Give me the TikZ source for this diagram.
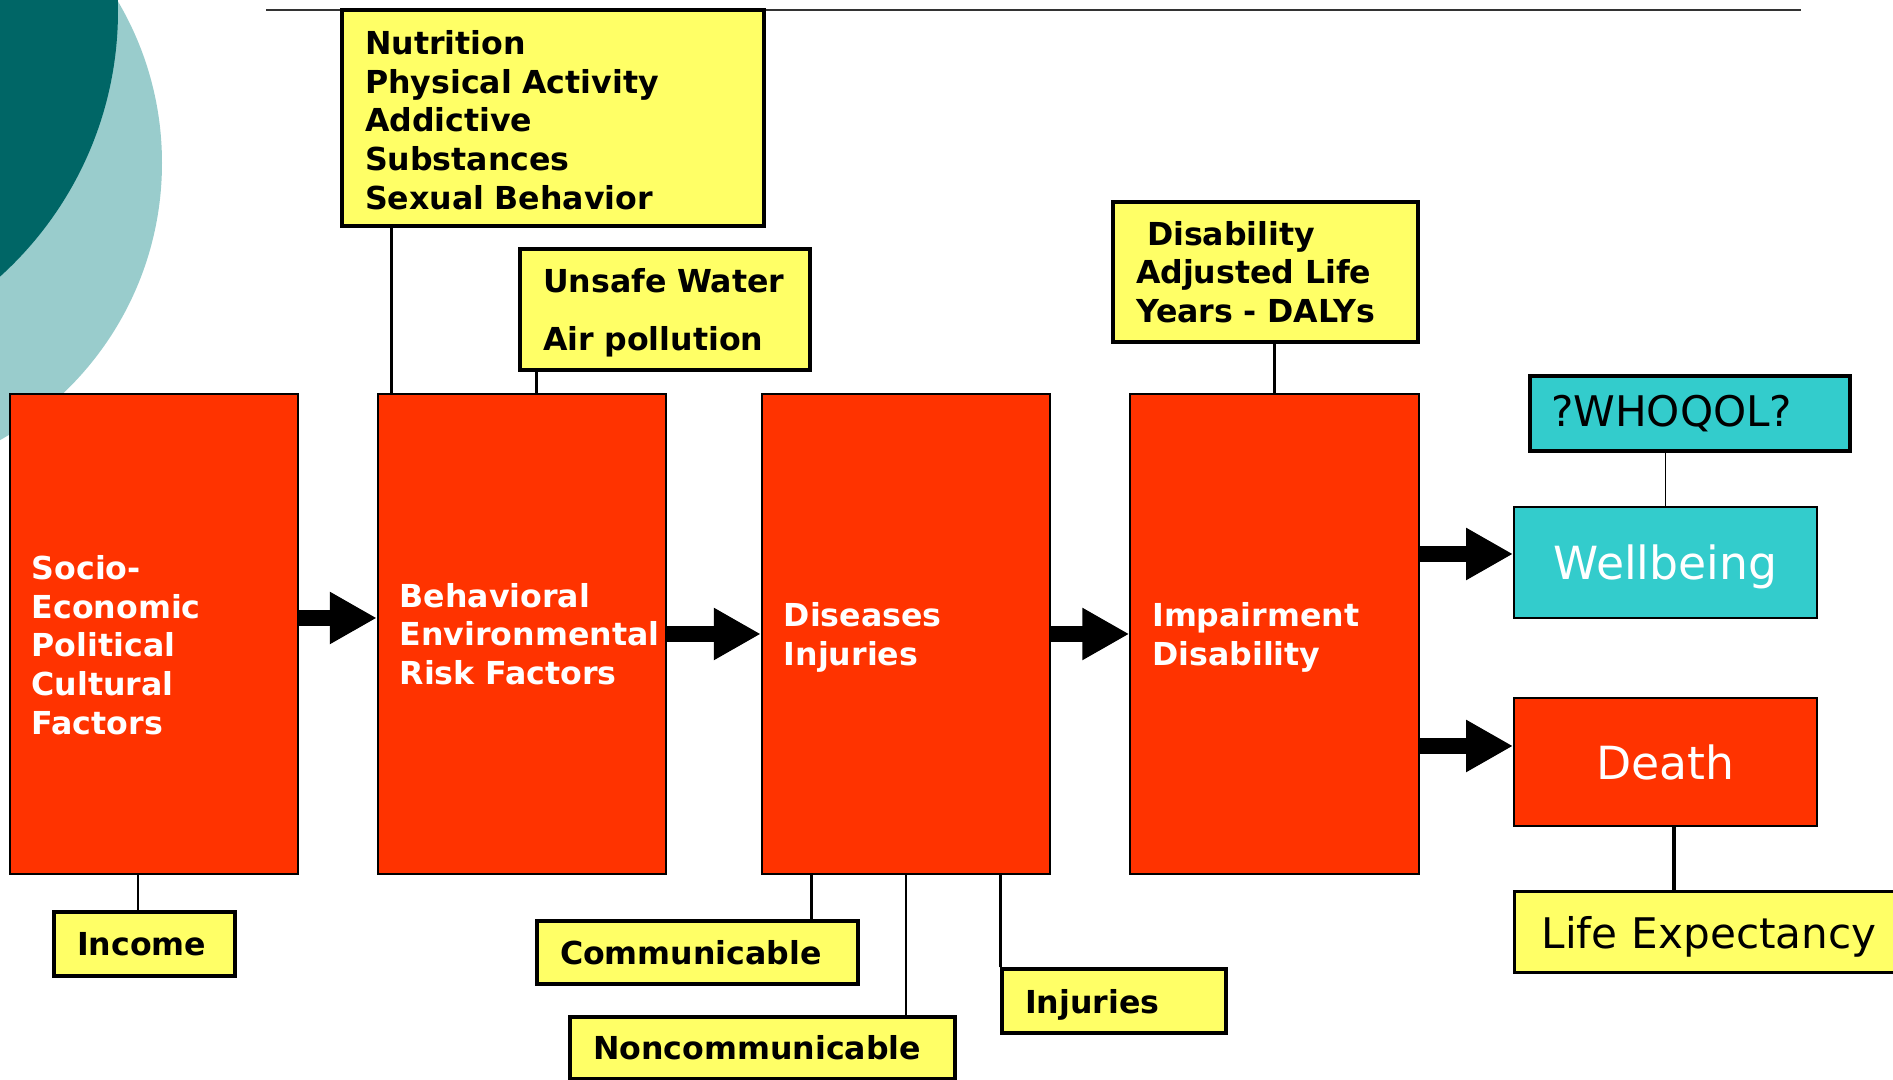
\documentclass[tikz,border=0pt]{standalone}
\usepackage{fontspec}
\setmainfont{DejaVu Sans}
\usetikzlibrary{arrows.meta, positioning}
\definecolor{riskred}{HTML}{FF3300}
\definecolor{noteyellow}{HTML}{FFFF66}
\definecolor{qolteal}{HTML}{33CCCC}
\definecolor{darkteal}{HTML}{006666}
\definecolor{paleteal}{HTML}{99CCCC}
\newcommand{\toppad}[1]{\rule{0pt}{#1}}

\begin{document}
\begin{tikzpicture}[
  redbox/.style={rectangle, draw=black, line width=1.1pt, fill=riskred, text=white, font=\bfseries\fontsize{18}{22}\selectfont, inner xsep=0pt, inner ysep=0pt, align=left, text width=5.77cm, minimum height=9.6cm, execute at begin node={\leftskip=0.44cm}},
  notebox/.style={rectangle, draw=black, line width=1.9pt, fill=noteyellow, font=\bfseries\fontsize{18}{22}\selectfont, inner xsep=0pt, inner ysep=0pt, align=left, execute at begin node={\leftskip=0.46cm}},
  outcome/.style={rectangle, draw=black, line width=1.1pt, text=white, font=\fontsize{26}{31}\selectfont, inner sep=0pt, minimum width=6.06cm},
  bigarrow/.style={line width=0.32cm, -{Triangle[length=0.94cm, width=0.98cm]}},
  link/.style={line width=1.6pt}
]
\useasboundingbox (0,0) rectangle (37.86,21.6);

% corner decoration
\fill[paleteal] (-3.12,18.34) circle (6.36);
\fill[darkteal] (-4.8,21.38) circle (7.16);
\draw[line width=1pt, black!80] (5.32,21.4) -- (36.02,21.4);

\node[redbox] (socio) at (3.08,8.92) {\toppad{0.92cm}Socio-\\Economic\\Political\\Cultural\\Factors};
\node[redbox] (behav) at (10.44,8.92) {Behavioral\\Environmental\\Risk Factors};
\node[redbox] (dis) at (18.12,8.92) {\toppad{0.63cm}Diseases\\Injuries};
\node[redbox] (impair) at (25.49,8.92) {\toppad{0.63cm}Impairment\\Disability};

\node[outcome, fill=qolteal, text depth=0pt, minimum height=2.22cm] (wellbeing) at (33.31,10.35) {Wellbeing};
\node[outcome, fill=riskred, minimum height=2.56cm] (death) at (33.31,6.36) {Death};
\node[notebox, fill=qolteal, font=\fontsize{24}{29}\selectfont, text width=6.4cm, minimum height=1.5cm, execute at begin node={\leftskip=0.42cm}] (whoqol) at (33.8,13.33) {?WHOQOL?};
\node[notebox, font=\fontsize{24}{29}\selectfont, text width=8.14cm, text depth=0pt, minimum height=1.62cm, execute at begin node={\leftskip=0.54cm}, below right=1.26cm and 0cm of death.south west] (lifeexp) {Life Expectancy};

\node[notebox, text width=8.44cm, minimum height=4.32cm] (lifestyle) at (11.06,19.24) {\toppad{0.56cm}Nutrition\\Physical Activity\\Addictive\\Substances\\Sexual Behavior};
\node[notebox, text width=5.8cm, minimum height=2.42cm] (environ) at (13.3,15.41) {\toppad{0.6cm}Unsafe Water\\[11pt]Air pollution};
\node[notebox, text width=6.1cm, minimum height=2.8cm] (dalys) at (25.31,16.16) {\hspace*{0.22cm}Disability\\Adjusted Life\\Years - DALYs};

\node[notebox, text width=3.62cm, minimum height=1.28cm] (income) at (2.89,2.72) {Income};
\node[notebox, text width=6.42cm, minimum height=1.26cm] (commun) at (13.95,2.55) {Communicable};
\node[notebox, text width=7.7cm, minimum height=1.24cm] (noncommun) at (15.25,0.64) {Noncommunicable};
\node[notebox, text width=4.48cm, text depth=0pt, minimum height=1.28cm] (injuries) at (22.28,1.58) {Injuries};

% arrows along the chain
\coordinate (wellin) at ([yshift=0.17cm]wellbeing.west);
\coordinate (deathin) at ([yshift=0.32cm]death.west);
\draw[bigarrow] ([yshift=0.32cm]socio.east) -- ([yshift=0.32cm]behav.west);
\draw[bigarrow] (behav.east) -- (dis.west);
\draw[bigarrow] (dis.east) -- (impair.west);
\draw[bigarrow] (impair.east |- wellin) -- (wellin);
\draw[bigarrow] (impair.east |- deathin) -- (deathin);

% connectors to the notes
\coordinate (lsfoot) at ([xshift=0.3cm]behav.north west);
\coordinate (envfoot) at ([xshift=0.36cm]environ.south west);
\coordinate (deathfoot) at ([xshift=0.17cm]death.south);
\coordinate (incomehead) at ([xshift=-0.13cm]income.north);
\coordinate (commhead) at ([xshift=-0.96cm]commun.north east);
\draw[link] (lsfoot) -- (lsfoot |- lifestyle.south);
\draw[link] (envfoot) -- (envfoot |- behav.north);
\draw[link] (impair.north) -- (impair.north |- dalys.south);
\draw[link, line width=1pt] (wellbeing.north) -- (wellbeing.north |- whoqol.south);
\draw[link, line width=2.2pt] (deathfoot) -- (deathfoot |- lifeexp.north);
\draw[link] (incomehead) -- (incomehead |- socio.south);
\draw[link] (commhead) -- (commhead |- dis.south);
\draw[link] (dis.south) -- (dis.south |- noncommun.north);
\draw[link] (injuries.north west) -- (injuries.north west |- dis.south);
\end{tikzpicture}
\end{document}
